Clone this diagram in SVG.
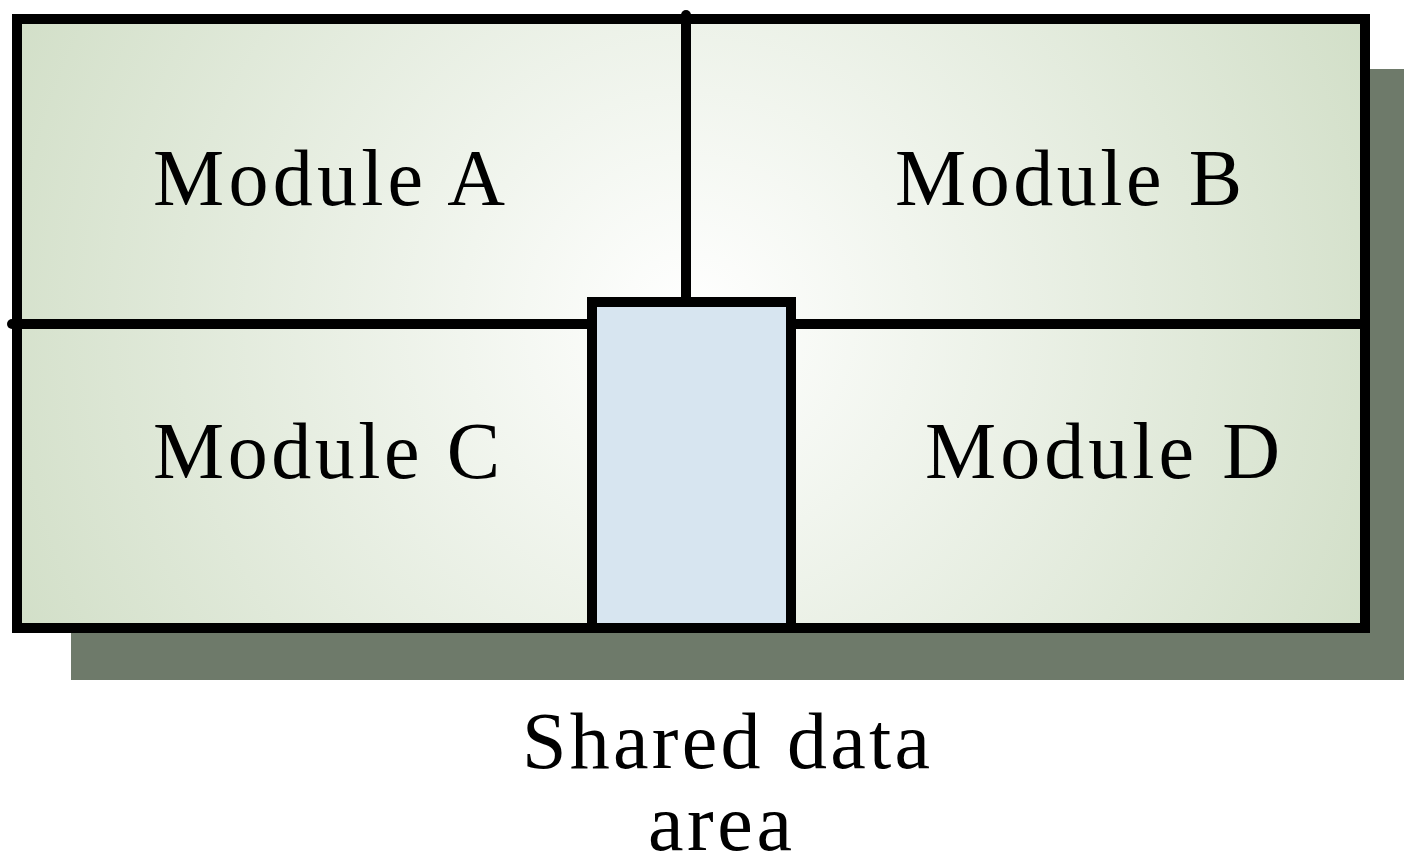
<svg xmlns="http://www.w3.org/2000/svg" width="1404" height="867" viewBox="0 0 1404 867">
  <defs>
    <radialGradient id="bg" gradientUnits="userSpaceOnUse" cx="690" cy="320" r="740">
      <stop offset="0" stop-color="#ffffff"/>
      <stop offset="1" stop-color="#d2dfc8"/>
    </radialGradient>
  </defs>
  <style>
    .ln { stroke: #000; stroke-width: 10; fill: none; stroke-linecap: round; }
    .lbl { font-family: "Liberation Serif", "Times New Roman", serif; font-size: 80px; fill: #000; }
  </style>
  <rect id="shadow" x="71" y="69" width="1333" height="611" fill="#6e7a6a"/>
  <rect id="frame" x="17" y="19" width="1348" height="609" fill="url(#bg)" stroke="#000" stroke-width="10"/>
  <g id="connectors">
    <line class="ln" x1="686" y1="15" x2="686" y2="300"/>
    <line class="ln" x1="12" y1="324" x2="592" y2="324"/>
    <line class="ln" x1="791" y1="324" x2="1365" y2="324" style="stroke-linecap:butt"/>
  </g>
  <g id="moduleA"><text class="lbl" x="153" y="205" textLength="352" lengthAdjust="spacing">Module A</text></g>
  <g id="moduleB"><text class="lbl" x="895" y="205" textLength="347" lengthAdjust="spacing">Module B</text></g>
  <g id="moduleC"><text class="lbl" x="153" y="478" textLength="347" lengthAdjust="spacing">Module C</text></g>
  <g id="moduleD"><text class="lbl" x="925" y="478" textLength="355" lengthAdjust="spacing">Module D</text></g>
  <g id="shared">
    <rect x="592" y="302" width="199" height="326" fill="#d7e5f0" stroke="#000" stroke-width="10"/>
    <text class="lbl" x="522" y="768" textLength="408" lengthAdjust="spacing">Shared data</text>
    <text class="lbl" x="648" y="850" textLength="144" lengthAdjust="spacing">area</text>
  </g>
</svg>
